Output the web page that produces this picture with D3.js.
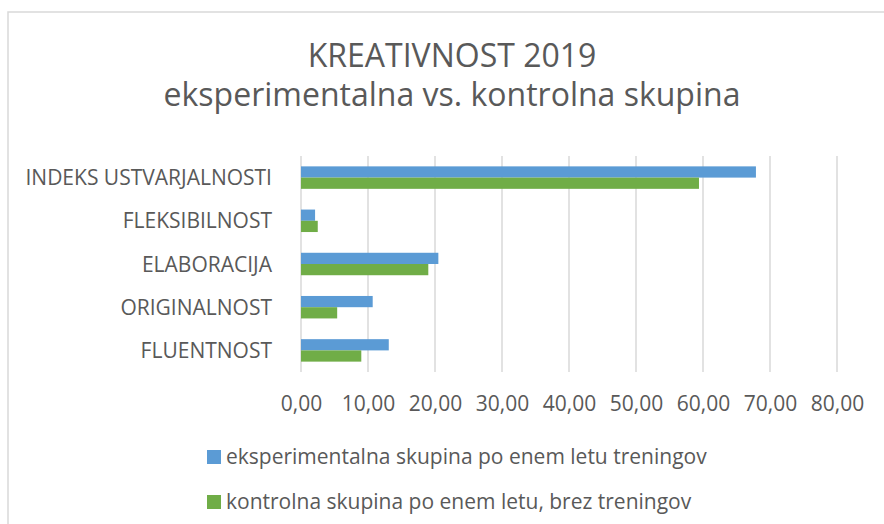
<!DOCTYPE html>
<html>
<head>
<meta charset="utf-8">
<script src="https://cdn.jsdelivr.net/npm/d3@7"></script>
<style>
  body { margin: 0; background: #fff; }
  text { font-family: 'Open Sans', sans-serif; fill: #595959; }
</style>
</head>
<body>
<div id="chart"></div>
<script>
const categories = ['INDEKS USTVARJALNOSTI', 'FLEKSIBILNOST', 'ELABORACIJA', 'ORIGINALNOST', 'FLUENTNOST'];
const seriesNames = ['eksperimentalna skupina po enem letu treningov', 'kontrolna skupina po enem letu, brez treningov'];
const experimental = [67.9, 2.1, 20.5, 10.7, 13.1];
const control = [59.4, 2.5, 19.0, 5.4, 9.0];
const xTicks = [0, 10, 20, 30, 40, 50, 60, 70, 80];
const titleLines = ['KREATIVNOST 2019', 'eksperimentalna vs. kontrolna skupina'];

const colors = ['#5b9bd5', '#70ad47'];

const width = 884, height = 524;
const plot = { left: 301, right: 837, top: 156, bottom: 372 };

let svg = d3.select('#chart')
            .append('svg')
            .attr('width', width)
            .attr('height', height);

// chart frame, runs past the window edge
svg.append('rect')
   .attr('x', 8)
   .attr('y', 12)
   .attr('width', 1000)
   .attr('height', 1000)
   .attr('fill', '#fff')
   .attr('stroke', '#d9d9d9')
   .attr('stroke-width', 1.5);

svg.selectAll('.title')
   .data(titleLines)
   .enter()
   .append('text')
   .attr('class', 'title')
   .attr('x', 452)
   .attr('y', (d, i) => 67 + i * 39)
   .attr('text-anchor', 'middle')
   .style('font-size', '32px')
   .text(d => d);

let x = d3.scaleLinear()
          .domain([0, 80])
          .range([plot.left, plot.right]);

let y = d3.scaleBand()
          .domain(categories)
          .range([plot.top, plot.bottom])
          .paddingInner(0.48)
          .paddingOuter(0.24);

let ySub = d3.scaleBand()
             .domain([0, 1])
             .range([0, y.bandwidth()]);

// gridlines
svg.append('g')
   .selectAll('line')
   .data(xTicks)
   .enter()
   .append('line')
   .attr('x1', d => x(d))
   .attr('x2', d => x(d))
   .attr('y1', plot.top)
   .attr('y2', plot.bottom)
   .attr('stroke', '#d9d9d9')
   .attr('stroke-width', 1.5);

// x axis labels
let xAxis = svg.append('g')
   .attr('transform', `translate(0, ${plot.bottom})`)
   .call(d3.axisBottom(x)
           .tickValues(xTicks)
           .tickSize(0)
           .tickPadding(39)
           .tickFormat(d => d3.format('.2f')(d).replace('.', ',')));
xAxis.select('.domain').remove();
xAxis.selectAll('text')
     .attr('fill', null)
     .style('font-size', '21px')
     .attr('dy', 0);

// category labels
svg.append('g')
   .selectAll('text')
   .data(categories)
   .enter()
   .append('text')
   .attr('x', 272)
   .attr('y', d => y(d) + y.bandwidth() / 2)
   .attr('dy', '0.36em')
   .attr('text-anchor', 'end')
   .style('font-size', '21px')
   .text(d => d);

// bars
let rows = categories.map((c, i) => ({ category: c, values: [experimental[i], control[i]] }));

svg.append('g')
   .selectAll('g')
   .data(rows)
   .enter()
   .append('g')
   .attr('transform', d => `translate(0, ${y(d.category)})`)
   .selectAll('rect')
   .data(d => d.values.map((v, s) => ({ series: s, value: v })))
   .enter()
   .append('rect')
   .attr('x', x(0))
   .attr('y', d => ySub(d.series))
   .attr('width', d => x(d.value) - x(0))
   .attr('height', ySub.bandwidth())
   .attr('fill', d => colors[d.series]);

// legend
let legend = svg.append('g')
   .selectAll('g')
   .data(seriesNames)
   .enter()
   .append('g')
   .attr('transform', (d, i) => `translate(207, ${450 + i * 45})`);

legend.append('rect')
      .attr('width', 14)
      .attr('height', 14)
      .attr('fill', (d, i) => colors[i]);

legend.append('text')
      .attr('x', 19)
      .attr('y', 14)
      .style('font-size', '21px')
      .text(d => d);
</script>
</body>
</html>
